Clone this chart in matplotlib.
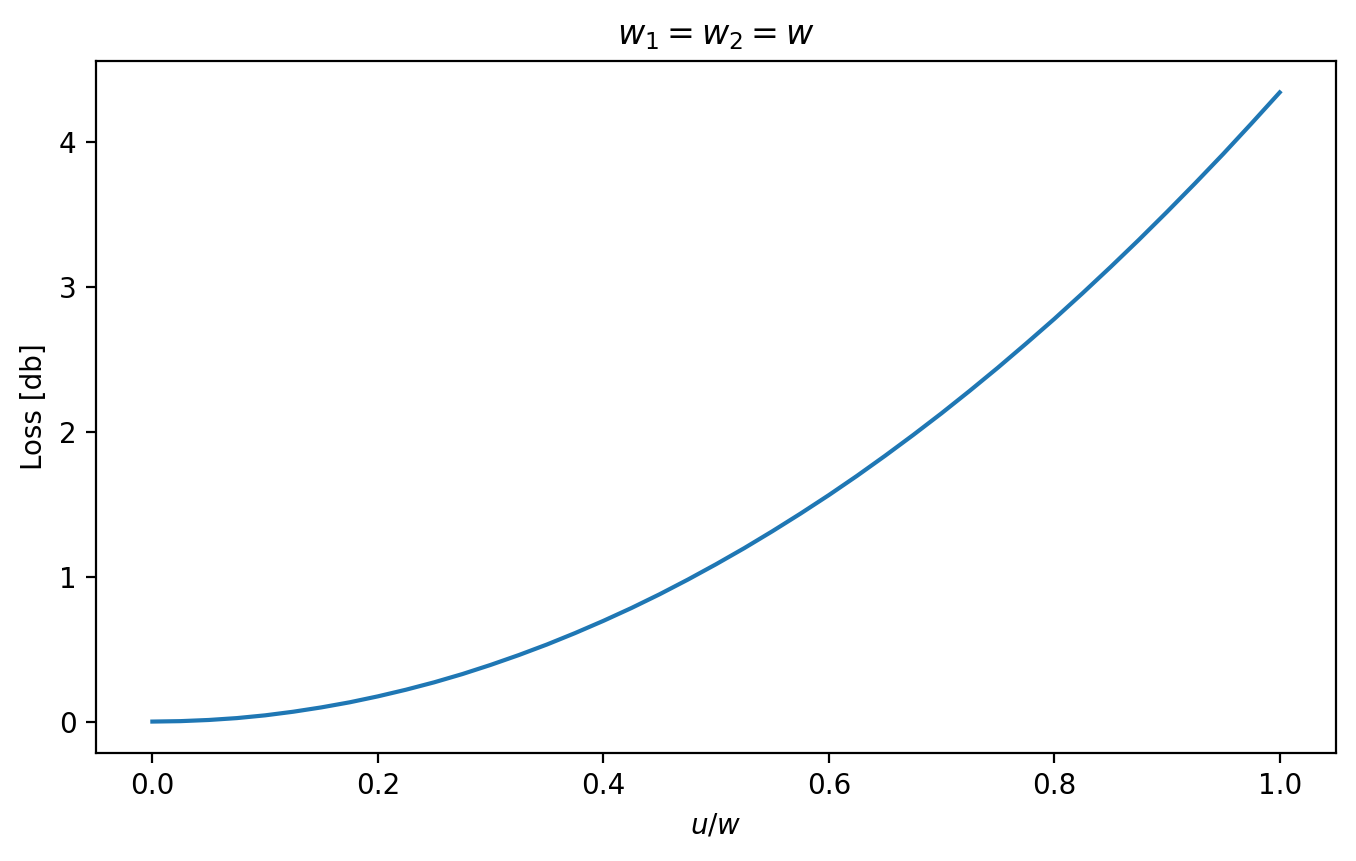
import matplotlib
matplotlib.use('Agg')
import matplotlib.pyplot as plt

# valeurs
u_over_w = [0.0, 0.025, 0.05, 0.075, 0.1, 0.125, 0.15, 0.175, 0.2, 0.225,
            0.25, 0.275, 0.3, 0.325, 0.35, 0.375, 0.4, 0.425, 0.45, 0.475,
            0.5, 0.525, 0.55, 0.575, 0.6, 0.625, 0.65, 0.675, 0.7, 0.725,
            0.75, 0.775, 0.8, 0.825, 0.85, 0.875, 0.9, 0.925, 0.95, 0.975, 1.0]
loss_db = [0.0, 0.003, 0.011, 0.024, 0.043, 0.068, 0.098, 0.133, 0.174, 0.220,
           0.271, 0.328, 0.391, 0.459, 0.532, 0.611, 0.695, 0.784, 0.879, 0.980,
           1.086, 1.197, 1.314, 1.436, 1.563, 1.696, 1.835, 1.979, 2.128, 2.283,
           2.443, 2.609, 2.779, 2.956, 3.138, 3.325, 3.518, 3.716, 3.919, 4.129, 4.343]

fig = plt.figure(figsize=(6.78, 4.305), dpi=200)
ax = fig.add_subplot(111)
ax.plot(u_over_w, loss_db, color='#1f77b4', linewidth=1.5)

ax.set_title(r'$w_1 = w_2 = w$')
ax.set_xlabel(r'$u/w$')
ax.set_ylabel('Loss [db]')

fig.subplots_adjust(left=0.0708, right=0.9853, top=0.9292, bottom=0.1254)
fig.savefig('out.png', dpi=200)
